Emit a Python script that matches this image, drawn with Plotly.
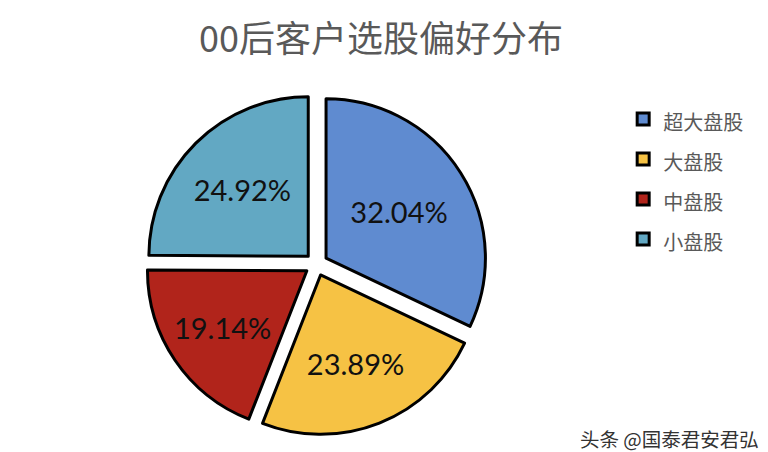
import plotly.graph_objects as go

categories = ["超大盘股", "大盘股", "中盘股", "小盘股"]
values = [32.04, 23.89, 19.14, 24.92]
colors = ["#5F8BD0", "#F6C244", "#B1241B", "#62A8C3"]
title_text = "00后客户选股偏好分布"
watermark = "头条 @国泰君安君弘"

legend_labels = ['<span style="font-size:20px">%s</span>' % c for c in categories]

fig = go.Figure(go.Pie(
    labels=legend_labels,
    values=values,
    sort=False,
    direction="clockwise",
    rotation=0,
    pull=[0.072] * len(values),
    marker=dict(colors=colors, line=dict(color="#000000", width=3)),
    texttemplate="%{value:.2f}%",
    textposition="inside",
    insidetextorientation="horizontal",
    textfont=dict(size=29, color="#111111", family="Lato, 'Open Sans', sans-serif"),
    hoverinfo="label+value",
    domain=dict(x=[0.179, 0.624], y=[0.055, 0.811]),
))

fig.update_layout(
    width=768, height=452,
    margin=dict(l=0, r=0, t=0, b=0),
    paper_bgcolor="white", plot_bgcolor="white",
    title=dict(text=title_text, x=0.4856, xanchor="center", y=0.93, yanchor="middle",
               font=dict(size=36, color="#595959", family="'Noto Sans CJK SC', sans-serif")),
    legend=dict(x=0.801, xanchor="left", y=0.81, yanchor="top",
                font=dict(size=28.5, color="#595959", family="'Noto Sans CJK SC', sans-serif"),
                itemwidth=30, bgcolor="rgba(0,0,0,0)"),
    annotations=[dict(text=watermark, x=0.98, y=0.048, xref="paper", yref="paper",
                      xanchor="right", yanchor="middle", showarrow=False,
                      font=dict(size=19.5, color="#333333", family="'Noto Sans CJK SC', sans-serif"))],
)

fig.write_html("out.html")
